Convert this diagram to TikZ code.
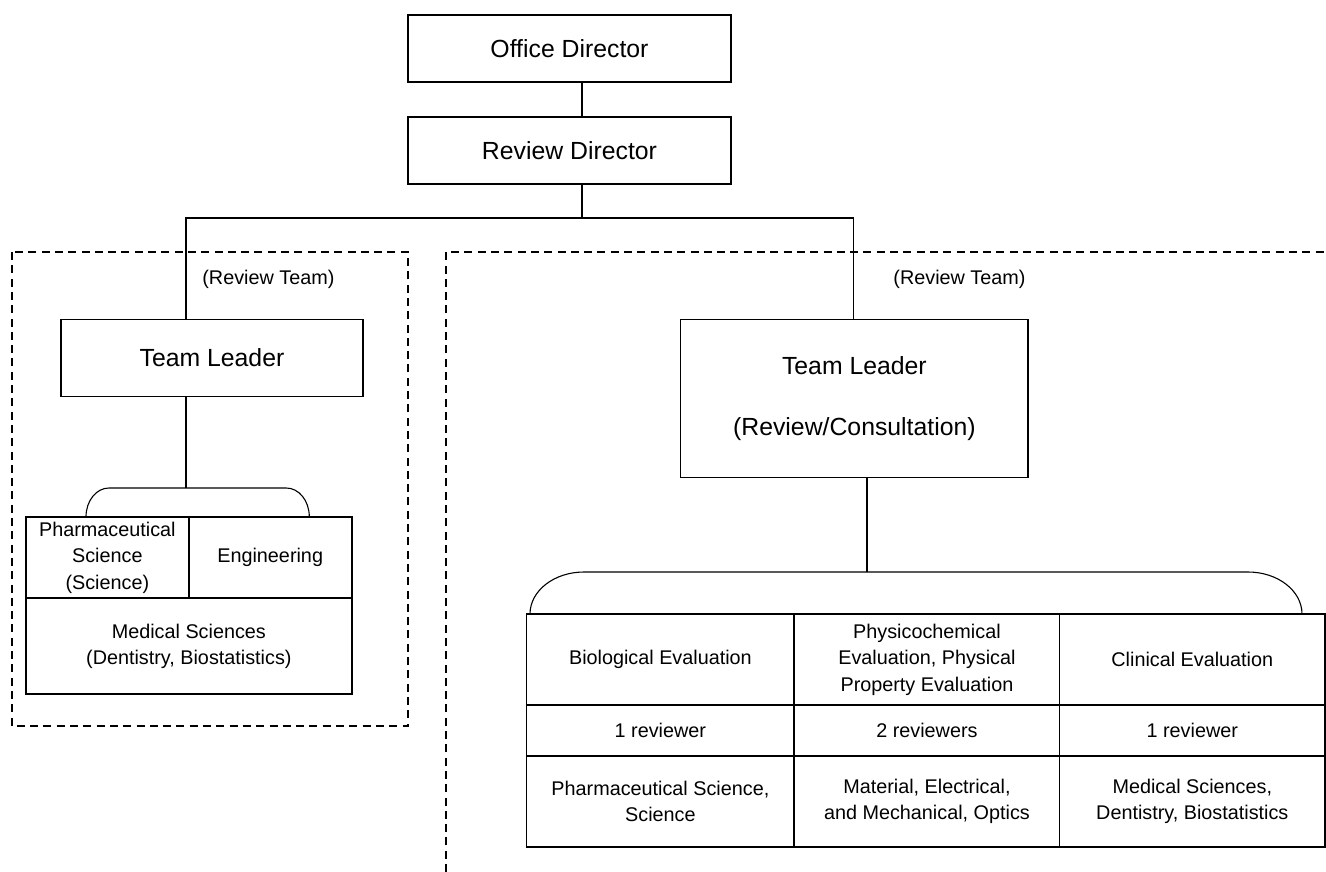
\documentclass[tikz,border=0pt]{standalone}
\usepackage{fontspec}
\setmainfont{Liberation Sans}
\begin{document}
\begin{tikzpicture}[x=1pt,y=-1pt,
  big/.style={font=\fontsize{24.8}{30}\selectfont},
  small/.style={font=\fontsize{19.8}{26.5}\selectfont},
  box/.style={draw, line width=1.2pt, inner sep=0pt, align=center, big},
  cell/.style={draw, line width=1.7pt, inner sep=0pt, align=center, small},
  link/.style={line width=1.1pt},
  zone/.style={line width=1.3pt, dash pattern=on 8pt off 5.3pt},
  note/.style={inner sep=0pt, small}]
\useasboundingbox (0,0) rectangle (1326,872);

% directors
\node[box, minimum width=323pt, minimum height=67pt] (od) at (569.5,48.5) {Office Director};
\node[box, minimum width=323pt, minimum height=67pt] (rd) at (569.5,150.5) {Review Director};

% team areas
\draw[zone] (12,252) rectangle (408,726);
\draw[zone] (446,872) -- (446,252) -- (1326,252);

\node[note] (rtL) at (268.4,279) {(Review Team)};
\node[note] (rtR) at (959.5,279) {(Review Team)};

% team leaders
\node[box, minimum width=302pt, minimum height=77.4pt] (tlL) at (212,358) {Team Leader};
\node[box, minimum width=347.3pt, minimum height=158pt] (tlR) at (854.4,398.3)
  {Team Leader\\[31pt](Review/Consultation)};

% connectors
\coordinate (s1) at (582,0);
\coordinate (busL) at (186,218);
\coordinate (busR) at (853.5,218);
\coordinate (s2) at (867,0);
\draw[link] (od.south -| s1) -- (rd.north -| s1);
\draw[link] (rd.south -| s1) -- (s1 |- busL);
\draw[link] (tlL.north -| busL) -- (busL) -- (busR) -- (tlR.north -| busR);

% left expertise table
\node[cell, minimum width=162.7pt, minimum height=81.6pt] (pha) at (107.35,557.5)
  {Pharmaceutical\\Science\\(Science)};
\node[cell, minimum width=163pt, minimum height=81.6pt] (eng) at (270.2,557.5) {Engineering};
\node[cell, minimum width=325.7pt, minimum height=96pt] (med) at (188.85,646.3)
  {Medical Sciences\\(Dentistry, Biostatistics)};

% left brace
\coordinate (bL) at (186,488);
\draw[link] (tlL.south -| bL) -- (bL);
\draw[link] (86,516.7) arc[start angle=180, end angle=270, x radius=23, y radius=28.7]
  -- (286.3,488) arc[start angle=270, end angle=360, x radius=23, y radius=28.7];

% right evaluation table
\node[cell, minimum width=267.8pt, minimum height=91pt] (bio) at (660.4,659.5) {Biological Evaluation};
\node[cell, minimum width=265.3pt, minimum height=91pt] (phy) at (926.95,659.5)
  {Physicochemical\\Evaluation, Physical\\Property Evaluation};
\node[cell, minimum width=265.4pt, minimum height=91pt] (cli) at (1192.3,659.5) {Clinical Evaluation};
\node[cell, minimum width=267.8pt, minimum height=50.7pt] (n1) at (660.4,730.35) {1 reviewer};
\node[cell, minimum width=265.3pt, minimum height=50.7pt] (n2) at (926.95,730.35) {2 reviewers};
\node[cell, minimum width=265.4pt, minimum height=50.7pt] (n3) at (1192.3,730.35) {1 reviewer};
\node[cell, minimum width=267.8pt, minimum height=91pt] (f1) at (660.4,801.2)
  {Pharmaceutical Science,\\Science};
\node[cell, minimum width=265.3pt, minimum height=91pt] (f2) at (926.95,801.2)
  {Material, Electrical,\\and Mechanical, Optics};
\node[cell, minimum width=265.4pt, minimum height=91pt] (f3) at (1192.3,801.2)
  {Medical Sciences,\\Dentistry, Biostatistics};

% right brace
\coordinate (bR) at (867,572);
\draw[link] (tlR.south -| s2) -- (bR);
\draw[link] (530,614) arc[start angle=180, end angle=270, x radius=54, y radius=42]
  -- (1248,572) arc[start angle=270, end angle=360, x radius=54, y radius=42];
\end{tikzpicture}
\end{document}
